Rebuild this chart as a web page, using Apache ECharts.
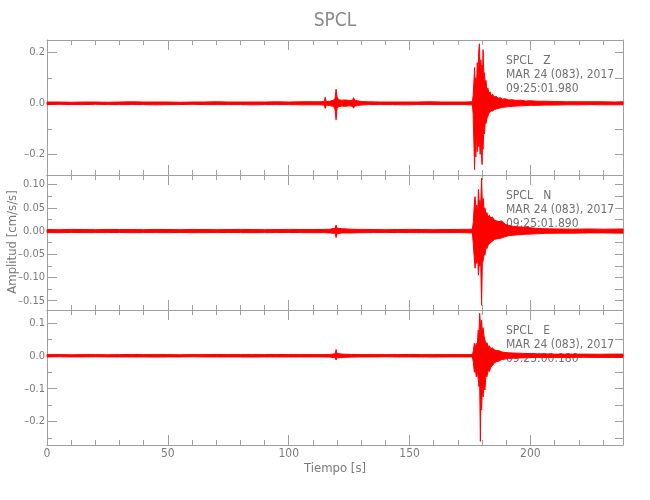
<!DOCTYPE html>
<html>
<head>
<meta charset="utf-8">
<script src="https://cdn.jsdelivr.net/npm/echarts@6/dist/echarts.min.js"></script>
<style>html,body{margin:0;padding:0;background:#fff}#chart{width:650px;height:500px}</style>
</head>
<body>
<div id="chart"></div>
<script>
// ---- data ----
const xMax = 238.3;
const xMajorTicks = [0, 50, 100, 150, 200];
const xMinorTicks = [10, 20, 30, 40, 60, 70, 80, 90, 110, 120, 130, 140, 160, 170, 180, 190, 210, 220, 230];

// envelope rows: [time (s), upper amplitude, lower amplitude]
const zRows = [
  [0,0.005,-0.005],[5,0.005,-0.004],[10,0.004,-0.005],[15,0.005,-0.005],[20,0.005,-0.004],[25,0.004,-0.005],
  [30,0.005,-0.005],[35,0.006,-0.005],[40,0.005,-0.005],[45,0.005,-0.006],[50,0.005,-0.005],[55,0.004,-0.005],
  [60,0.005,-0.004],[65,0.005,-0.005],[70,0.006,-0.005],[75,0.005,-0.005],[80,0.005,-0.005],[85,0.005,-0.006],
  [90,0.005,-0.005],[95,0.006,-0.005],[100,0.005,-0.005],[105,0.006,-0.006],[110,0.006,-0.006],
  [113,0.006,-0.006],[114.7,0.007,-0.007],[115.1,0.024,-0.02],[115.5,0.007,-0.007],[117,0.008,-0.009],
  [118.5,0.012,-0.012],[119.2,0.02,-0.025],[119.6,0.055,-0.065],[120,0.025,-0.02],[120.6,0.014,-0.013],
  [122,0.012,-0.011],[123.5,0.013,-0.012],[125,0.011,-0.01],[126.4,0.012,-0.012],[126.8,0.022,-0.019],
  [127.3,0.012,-0.011],[128.5,0.01,-0.009],[130,0.007,-0.007],
  [133,0.006,-0.005],[138,0.005,-0.005],[143,0.005,-0.005],[148,0.005,-0.006],[153,0.005,-0.005],
  [158,0.006,-0.005],[163,0.005,-0.005],[168,0.005,-0.005],[173,0.005,-0.005],[176,0.006,-0.006],
  [176.3,0.03,-0.04],[176.6,0.08,-0.15],[176.9,0.14,-0.26],[177.1,0.07,-0.12],[177.4,0.10,-0.21],
  [177.7,0.06,-0.11],[178.0,0.16,-0.19],[178.3,0.11,-0.12],[178.6,0.20,-0.17],[178.9,0.233,-0.14],
  [179.2,0.13,-0.20],[179.5,0.17,-0.13],[179.8,0.12,-0.21],[180.0,0.15,-0.24],[180.2,0.10,-0.15],
  [180.4,0.21,-0.18],[180.7,0.11,-0.10],[181.0,0.12,-0.12],[181.3,0.07,-0.07],[181.6,0.09,-0.08],
  [182.0,0.05,-0.06],[182.4,0.06,-0.05],[182.8,0.04,-0.04],[183.3,0.045,-0.035],[183.8,0.03,-0.03],
  [184.4,0.035,-0.03],[185.0,0.025,-0.025],[185.8,0.028,-0.022],[186.6,0.02,-0.02],[187.5,0.022,-0.018],
  [188.5,0.016,-0.016],[189.5,0.018,-0.015],[191,0.013,-0.013],[192.5,0.014,-0.012],[194,0.011,-0.011],
  [196,0.012,-0.01],[198,0.009,-0.009],[200,0.01,-0.008],[203,0.008,-0.008],[206,0.008,-0.007],
  [210,0.007,-0.007],[215,0.006,-0.006],[220,0.006,-0.006],[225,0.006,-0.005],[230,0.006,-0.006],
  [235,0.005,-0.006],[238.3,0.006,-0.006]
];
const nRows = [
  [0,0.0033,-0.0033],[5,0.003,-0.0035],[10,0.0035,-0.003],[15,0.0033,-0.0033],[20,0.003,-0.0033],[25,0.0035,-0.0033],
  [30,0.0033,-0.003],[35,0.0033,-0.0035],[40,0.003,-0.0033],[45,0.0035,-0.0033],[50,0.0033,-0.0033],[55,0.003,-0.003],
  [60,0.0035,-0.0035],[65,0.0033,-0.0033],[70,0.003,-0.0033],[75,0.0033,-0.003],[80,0.0035,-0.0033],[85,0.0033,-0.0035],
  [90,0.003,-0.0033],[95,0.0033,-0.0033],[100,0.0035,-0.003],[105,0.0033,-0.0033],[110,0.0033,-0.0035],
  [115,0.0035,-0.0035],[117,0.004,-0.004],[119.2,0.006,-0.005],[119.6,0.013,-0.014],[120,0.006,-0.006],
  [122,0.005,-0.004],[126,0.004,-0.004],[130,0.0035,-0.0035],[135,0.0033,-0.0033],[140,0.003,-0.0033],
  [145,0.0033,-0.003],[150,0.0035,-0.0033],[155,0.0033,-0.0033],[160,0.003,-0.0035],[165,0.0033,-0.0033],
  [170,0.0035,-0.0033],[176,0.004,-0.004],
  [176.4,0.02,-0.03],[176.8,0.06,-0.06],[177.1,0.074,-0.08],[177.5,0.045,-0.055],[177.8,0.056,-0.07],
  [178.2,0.04,-0.06],[178.5,0.09,-0.095],[178.8,0.06,-0.07],[179.1,0.066,-0.075],[179.4,0.05,-0.06],
  [179.8,0.114,-0.16],[180.1,0.06,-0.07],[180.5,0.07,-0.062],[180.8,0.045,-0.05],[181.2,0.05,-0.052],
  [181.6,0.035,-0.035],[182.0,0.04,-0.038],[182.5,0.03,-0.03],[183.0,0.034,-0.028],[183.6,0.028,-0.024],
  [184.3,0.03,-0.022],[185.0,0.024,-0.018],[186,0.022,-0.017],[187,0.02,-0.016],[188,0.022,-0.015],
  [189.5,0.015,-0.012],[191,0.012,-0.01],[193,0.01,-0.009],[195,0.009,-0.008],[198,0.008,-0.007],
  [202,0.006,-0.006],[206,0.005,-0.005],[212,0.0045,-0.0045],[218,0.004,-0.0045],[224,0.0045,-0.004],
  [230,0.004,-0.004],[238.3,0.0045,-0.0045]
];
const eRows = [
  [0,0.0035,-0.0035],[5,0.0035,-0.003],[10,0.003,-0.0035],[15,0.0035,-0.0035],[20,0.0035,-0.003],[25,0.003,-0.0035],
  [30,0.0035,-0.0035],[35,0.004,-0.0035],[40,0.0035,-0.0035],[45,0.0035,-0.004],[50,0.0035,-0.0035],[55,0.003,-0.0035],
  [60,0.0035,-0.003],[65,0.0035,-0.0035],[70,0.004,-0.0035],[75,0.0035,-0.0035],[80,0.0035,-0.0035],[85,0.0035,-0.004],
  [90,0.0035,-0.0035],[95,0.004,-0.0035],[100,0.0035,-0.0035],[105,0.0035,-0.0035],[110,0.0035,-0.0035],
  [115,0.0035,-0.0035],[117,0.004,-0.004],[119.2,0.006,-0.006],[119.6,0.019,-0.013],[120,0.007,-0.006],
  [122,0.005,-0.005],[126,0.004,-0.004],[130,0.0035,-0.0035],[135,0.0035,-0.0035],[140,0.0035,-0.003],
  [145,0.0035,-0.0035],[150,0.004,-0.0035],[155,0.0035,-0.0035],[160,0.0035,-0.004],[165,0.0035,-0.0035],
  [170,0.0035,-0.0035],[176,0.0035,-0.0035],
  [176.4,0.015,-0.02],[176.8,0.038,-0.05],[177.2,0.025,-0.04],[177.6,0.038,-0.064],[178.0,0.03,-0.045],
  [178.4,0.078,-0.07],[178.7,0.06,-0.094],[179.0,0.129,-0.08],[179.3,0.1,-0.26],[179.5,0.07,-0.12],
  [179.8,0.108,-0.165],[180.1,0.07,-0.1],[180.4,0.085,-0.125],[180.8,0.06,-0.09],[181.2,0.048,-0.104],
  [181.6,0.035,-0.06],[182.0,0.04,-0.064],[182.5,0.028,-0.045],[183.0,0.03,-0.048],[183.6,0.022,-0.035],
  [184.3,0.024,-0.03],[185.0,0.018,-0.022],[186,0.016,-0.018],[187,0.015,-0.016],[188,0.012,-0.012],
  [189.5,0.01,-0.01],[191,0.009,-0.008],[194,0.008,-0.007],[198,0.007,-0.006],[203,0.006,-0.005],
  [210,0.005,-0.005],[216,0.005,-0.005],[222,0.005,-0.0045],[228,0.0045,-0.005],[234,0.005,-0.005],
  [238.3,0.005,-0.005]
];

const zRange = [-0.281, 0.248];
const nRange = [-0.170, 0.1207];
const eRange = [-0.271, 0.139];
const zMajor = [-0.2, 0, 0.2];
const zMinor = [-0.1, 0.1];
const nMajor = [-0.15, -0.10, -0.05, 0, 0.05, 0.10];
const nMinor = [-0.125, -0.075, -0.025, 0.025, 0.075];
const eMajor = [-0.2, -0.1, 0, 0.1];
const eMinor = [-0.25, -0.15, -0.05, 0.05];

const zNote = ['SPCL   Z', 'MAR 24 (083), 2017', '09:25:01.980'];
const nNote = ['SPCL   N', 'MAR 24 (083), 2017', '09:25:01.890'];
const eNote = ['SPCL   E', 'MAR 24 (083), 2017', '09:25:00.180'];

const titleText = 'SPCL';
const xName = 'Tiempo [s]';
const yName = 'Amplitud [cm/s/s]';

// ---- styling / layout ----
const RED = '#ff0000';
const AXIS = '#a0a0a0';
const TEXT = '#7a7a7a';
const FONT = "'DejaVu Sans Condensed', 'Liberation Sans Narrow', sans-serif";
const LEFT = 47, WIDTH = 576, H = 135;
const panels = [
  { rows: zRows, range: zRange, major: zMajor, minor: zMinor, dec: 1, top: 40, note: zNote },
  { rows: nRows, range: nRange, major: nMajor, minor: nMinor, dec: 2, top: 175, note: nNote },
  { rows: eRows, range: eRange, major: eMajor, minor: eMinor, dec: 1, top: 310, note: eNote }
];

const grids = [], xAxes = [], yAxes = [], series = [], graphics = [];
graphics.push({ type: 'text', x: 335, y: 21, style: { text: titleText, fontSize: 19, fontFamily: FONT, fill: '#8a8a8a', align: 'center', verticalAlign: 'middle' } });
graphics.push({ type: 'text', x: 13, y: 242, rotation: Math.PI / 2,
  style: { text: yName, fontSize: 13, fontFamily: FONT, fill: TEXT, align: 'center', verticalAlign: 'middle' } });

panels.forEach((p, gi) => {
  grids.push({ left: LEFT, top: p.top, width: WIDTH, height: H, outerBoundsMode: 'none' });
  const last = gi === panels.length - 1;
  const mkX = (pos, ticks, len, main) => ({
    type: 'value', gridIndex: gi, position: pos, min: 0, max: xMax,
    axisLine: { show: main, onZero: false, lineStyle: { color: AXIS, width: 1 } },
    axisTick: { show: true, inside: true, length: len, customValues: ticks, lineStyle: { color: AXIS } },
    axisLabel: { show: main && last && pos === 'bottom', customValues: xMajorTicks, color: TEXT, fontSize: 12, fontFamily: FONT, margin: 3 },
    splitLine: { show: false },
    name: (main && last && pos === 'bottom') ? xName : '',
    nameLocation: 'middle', nameGap: 17,
    nameTextStyle: { color: TEXT, fontSize: 13, fontFamily: FONT }
  });
  xAxes.push(mkX('bottom', xMajorTicks, 10, true), mkX('bottom', xMinorTicks, 5, false),
             mkX('top', xMajorTicks, 10, true), mkX('top', xMinorTicks, 5, false));
  const fmt = v => (v < 0 ? '\u2013' : '') + Math.abs(v).toFixed(p.dec);
  const mkY = (pos, ticks, len, main) => ({
    type: 'value', gridIndex: gi, position: pos, min: p.range[0], max: p.range[1],
    axisLine: { show: main, onZero: false, lineStyle: { color: AXIS, width: 1 } },
    axisTick: { show: true, inside: true, length: len, customValues: ticks, lineStyle: { color: AXIS } },
    axisLabel: { show: main && pos === 'left', customValues: p.major, formatter: fmt, color: TEXT, fontSize: 11, fontFamily: FONT, margin: 2 },
    splitLine: { show: false }
  });
  yAxes.push(mkY('left', p.major, 10, true), mkY('left', p.minor, 5, false),
             mkY('right', p.major, 8, true), mkY('right', p.minor, 8, false));

  const rows = p.rows;
  series.push({
    type: 'custom', xAxisIndex: 4 * gi, yAxisIndex: 4 * gi, data: rows,
    encode: { x: 0, y: [1, 2] }, silent: true, animation: false,
    renderItem: (params, api) => {
      if (params.dataIndex !== 0) return null;
      const upper = rows.map(r => api.coord([r[0], r[1]]));
      const lower = rows.slice().reverse().map(r => api.coord([r[0], r[2]]));
      return { type: 'polygon', shape: { points: upper.concat(lower) },
               style: { fill: RED, stroke: RED, lineWidth: 1 } };
    }
  });

  graphics.push({ type: 'text', x: 506, y: p.top + 14,
    style: { text: p.note.join('\n'), fontSize: 12, fontFamily: FONT, fill: '#707070', lineHeight: 14, verticalAlign: 'top' } });
});

const chart = echarts.init(document.getElementById('chart'), null, { renderer: 'canvas' });
chart.setOption({
  animation: false,
  backgroundColor: '#ffffff',
  grid: grids, xAxis: xAxes, yAxis: yAxes, series: series, graphic: graphics
});
</script>
</body>
</html>
